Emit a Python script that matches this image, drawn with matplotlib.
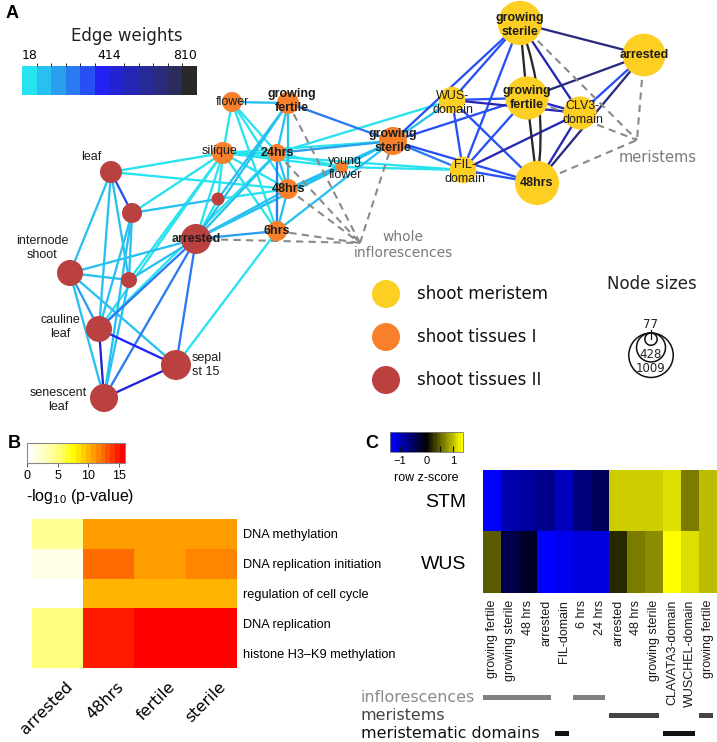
import numpy as np
import matplotlib
matplotlib.use('Agg')
import matplotlib.pyplot as plt
from matplotlib.colors import ListedColormap, BoundaryNorm, LinearSegmentedColormap, Normalize
from matplotlib.patches import Circle, FancyArrowPatch
import matplotlib.colorbar as mcolorbar

plt.rcParams['font.family'] = ['DejaVu Sans']
plt.rcParams['mathtext.default'] = 'regular'

W, H = 717, 742
SANS = ['Liberation Sans', 'DejaVu Sans']

# ---------------- Panel A data ----------------
node_ids = ['gsY', 'arrY', 'wus', 'gfY', 'clv3', 'fil', '48Y',
            'flower', 'gfO', 'silique', '24h', 'young', '48O', '6h', 'gsO',
            'leaf', 'smA', 'smB', 'arrR', 'internode', 'smC', 'cauline', 'sepal', 'senescent']
node_labels = ['growing\nsterile', 'arrested', 'WUS-\ndomain', 'growing\nfertile', 'CLV3-\ndomain',
               'FIL-\ndomain', '48hrs',
               'flower', 'growing\nfertile', 'silique', '24hrs', 'young\nflower', '48hrs', '6hrs',
               'growing\nsterile',
               'leaf', '', '', 'arrested', 'internode\nshoot', '', 'cauline\nleaf', 'sepal\nst 15',
               'senescent\nleaf']
node_group = [0] * 7 + [1] * 8 + [2] * 9
node_genes = [1000, 930, 360, 950, 560, 360, 990,
              204, 247, 247, 165, 73, 204, 204, 400,
              247, 204, 86, 459, 345, 130, 345, 459, 400]
node_x = [520, 644, 452, 527, 580, 463, 537,
          232, 288, 223, 277, 342, 288, 277, 393,
          111, 132, 218, 196, 70, 129, 99, 176, 104]
node_y = [23, 55, 100, 98, 113, 170, 183,
          102, 103, 153, 153, 167, 189, 231, 141,
          172, 213, 199, 239, 273, 280, 329, 365, 398]
bold_nodes = ['gsY', 'arrY', 'gfY', '48Y', 'gfO', '24h', '48O', '6h', 'gsO', 'arrR']

edges = [
    ('gsY', 'gfY', 810), ('gfY', '48Y', 800), ('gsY', '48Y', 790),
    ('gsY', 'arrY', 640), ('gfY', 'arrY', 620), ('arrY', '48Y', 660),
    ('gsY', 'clv3', 500), ('gfY', 'clv3', 460), ('clv3', '48Y', 540), ('arrY', 'clv3', 330),
    ('wus', 'clv3', 540), ('fil', 'clv3', 540),
    ('gsY', 'wus', 300), ('gsY', 'fil', 300), ('gsY', 'gsO', 300),
    ('gfY', 'wus', 300), ('gfY', 'fil', 300), ('gfY', 'gsO', 300),
    ('wus', 'fil', 300), ('wus', '48Y', 300), ('fil', '48Y', 300), ('gsO', '48Y', 290),
    ('gsO', 'fil', 280), ('gsO', 'wus', 90),
    ('flower', 'gfO', 130), ('flower', 'silique', 80), ('flower', '24h', 80), ('flower', '48O', 80),
    ('flower', '6h', 80),
    ('gfO', '24h', 100), ('gfO', '48O', 100), ('gfO', 'gsO', 220), ('gfO', 'arrR', 120), ('gfO', 'smB', 90),
    ('silique', '24h', 80), ('silique', '48O', 80), ('silique', '6h', 80), ('silique', 'young', 60),
    ('silique', 'gsO', 60), ('silique', 'fil', 50),
    ('24h', '48O', 110), ('24h', '6h', 230), ('24h', 'young', 80), ('24h', 'gsO', 160), ('24h', 'wus', 70),
    ('48O', '6h', 130), ('48O', 'young', 100), ('48O', 'gsO', 130),
    ('6h', 'gsO', 100), ('young', 'gsO', 100), ('young', 'fil', 60),
    ('arrR', '6h', 180), ('arrR', '24h', 120), ('arrR', '48O', 90), ('arrR', 'young', 80),
    ('arrR', 'silique', 80), ('arrR', 'smB', 70), ('arrR', 'gsO', 90),
    ('leaf', 'smA', 300), ('leaf', 'internode', 90), ('leaf', 'cauline', 90), ('leaf', 'smC', 90),
    ('leaf', 'silique', 80), ('leaf', '48O', 60),
    ('smA', 'smB', 90), ('smA', 'cauline', 90), ('smA', 'senescent', 90), ('smA', 'smC', 90),
    ('smA', 'silique', 80),
    ('internode', 'arrR', 140), ('internode', 'smC', 90), ('internode', 'cauline', 200),
    ('internode', 'senescent', 90), ('internode', 'sepal', 100),
    ('smC', 'arrR', 90), ('smC', 'senescent', 90), ('smC', 'silique', 80),
    ('cauline', 'arrR', 230), ('cauline', 'senescent', 460), ('cauline', 'sepal', 400),
    ('cauline', 'silique', 80), ('cauline', '24h', 80),
    ('senescent', 'sepal', 460), ('senescent', 'arrR', 230), ('sepal', 'arrR', 280), ('sepal', '6h', 70),
    ('smB', '48O', 70), ('smB', 'silique', 70),
]
curved_edges = [('gsY', '48Y')]

infl_members = ['gfO', '24h', '48O', '6h', 'arrR', 'gsO']
mer_members = ['gsY', 'arrY', 'gfY', '48Y']

group_names = ['shoot meristem', 'shoot tissues I', 'shoot tissues II']
group_colors = ['#fccf22', '#f8802a', '#bb4040']

edge_w_min, edge_w_mid, edge_w_max = 18, 414, 810
edge_colors = ['#27e3ef', '#27c0f0', '#2a9ff0', '#2a7af2', '#2650f4', '#2222f4',
               '#2323d4', '#2626b4', '#282a98', '#2a2b7e', '#2b2c5c', '#282828']
size_legend = [77, 428, 1009]

# ---------------- Panel B data ----------------
b_cols = ['arrested', '48hrs', 'fertile', 'sterile']
b_rows = ['DNA methylation', 'DNA replication initiation', 'regulation of cell cycle',
          'DNA replication', 'histone H3\u2013K9 methylation']
b_vals = np.array([
    [4.5, 10.8, 10.8, 10.8],
    [1.5, 12.5, 10.8, 11.7],
    [0.7, 10.0, 10.0, 10.0],
    [5.0, 15.0, 16.0, 16.0],
    [5.0, 15.0, 15.8, 15.3],
])

# ---------------- Panel C data ----------------
c_cols = ['growing fertile', 'growing sterile', '48 hrs', 'arrested', 'FIL-domain', '6 hrs', '24 hrs',
          'arrested', '48 hrs', 'growing sterile', 'CLAVATA3-domain', 'WUSCHEL-domain', 'growing fertile']
c_rows = ['STM', 'WUS']
c_vals = np.array([
    [-1.4, -0.9, -0.85, -0.73, -1.0, -0.63, -0.5, 1.1, 1.06, 1.1, 1.19, 0.64, 0.98],
    [0.51, -0.42, -0.25, -1.4, -1.23, -1.19, -1.19, 0.25, 0.68, 0.72, 1.32, 1.15, 0.98],
])
c_infl = [1, 1, 1, 1, 0, 1, 1, 0, 0, 0, 0, 0, 0]
c_mer = [0, 0, 0, 0, 0, 0, 0, 1, 1, 1, 0, 0, 1]
c_dom = [0, 0, 0, 0, 1, 0, 0, 0, 0, 0, 1, 1, 0]
c_group_names = ['inflorescences', 'meristems', 'meristematic domains']
c_group_colors = ['#808080', '#444444', '#111111']
c_text_colors = ['#8a8a8a', '#444444', '#111111']

# ---------------- figure ----------------
fig = plt.figure(figsize=(W / 100, H / 100), dpi=100)


def ax_px(x0, y0, x1, y1):
    return fig.add_axes([x0 / W, 1 - y1 / H, (x1 - x0) / W, (y1 - y0) / H])


# ===== Panel A =====
axA = ax_px(0, 0, W, 430)
axA.set_xlim(0, W)
axA.set_ylim(430, 0)
axA.axis('off')

pos = {n: (x, y) for n, x, y in zip(node_ids, node_x, node_y)}
ecmap = ListedColormap(edge_colors)
enorm = BoundaryNorm(np.linspace(edge_w_min, edge_w_max, len(edge_colors) + 1), len(edge_colors))

for a, b, w in sorted(edges, key=lambda e: e[2]):
    col = ecmap(enorm(w))
    if (a, b) in curved_edges:
        p = FancyArrowPatch(pos[a], pos[b], connectionstyle='arc3,rad=-0.13', arrowstyle='-',
                            color=col, lw=1.65, zorder=1 + w / 1000)
        axA.add_patch(p)
    else:
        axA.plot([pos[a][0], pos[b][0]], [pos[a][1], pos[b][1]], color=col, lw=1.65,
                 solid_capstyle='round', zorder=1 + w / 1000)

infl_anchor = (360, 243)
mer_anchor = (637, 140)
for n in infl_members:
    axA.plot([pos[n][0], infl_anchor[0]], [pos[n][1], infl_anchor[1]], color='#8a8a8a', lw=1.5,
             dashes=(3.5, 2.5), zorder=2.5)
for n in mer_members:
    axA.plot([pos[n][0], mer_anchor[0]], [pos[n][1], mer_anchor[1]], color='#8a8a8a', lw=1.5,
             dashes=(3.5, 2.5), zorder=2.5)

for n, g, s in zip(node_ids, node_group, node_genes):
    axA.add_patch(Circle(pos[n], 0.7 * np.sqrt(s), color=group_colors[g], lw=0, zorder=3))

label_off = {'leaf': (-20, -15, 'center'), 'internode': (-28, -25, 'center'),
             'cauline': (-39, -2, 'center'), 'sepal': (16, 0, 'left'),
             'senescent': (-46, 2, 'center'), 'silique': (-3, -2, 'center'),
             'young': (3, 1, 'center'), 'clv3': (3, 0, 'center'), 'fil': (2, 2, 'center'),
             'wus': (1, 3, 'center'), 'gsY': (0, 2, 'center'), 'gfO': (4, -2, 'center'),
             'gsO': (0, 0, 'center')}
for n, lab in zip(node_ids, node_labels):
    if not lab:
        continue
    dx, dy, ha = label_off.get(n, (0, 0, 'center'))
    axA.text(pos[n][0] + dx, pos[n][1] + dy, lab, ha=ha, va='center',
             multialignment='center' if ha == 'center' else 'left',
             fontsize=9, family=SANS, fontweight='bold' if n in bold_nodes else 'normal',
             color='#1c1c1c', linespacing=1.15, zorder=4)

axA.text(403, 245, 'whole\ninflorescences', ha='center', va='center', fontsize=10, color='#7a7a7a',
         linespacing=1.1, zorder=4)
axA.text(658, 157, 'meristems', ha='center', va='center', fontsize=10.5, color='#7a7a7a', zorder=4)
axA.text(6, 14, 'A', ha='left', va='center', fontsize=13, fontweight='bold', family=SANS)

# node group legend
for i, (gn, gc) in enumerate(zip(group_names, group_colors)):
    axA.add_patch(Circle((386, 294 + 43 * i), 14, color=gc, lw=0))
    axA.text(417, 294 + 43 * i, gn, ha='left', va='center', fontsize=12, color='#111')

# node size legend
axA.text(652, 284, 'Node sizes', ha='center', va='center', fontsize=12, color='#222')
for s in size_legend:
    r = 0.7 * np.sqrt(s)
    axA.add_patch(Circle((651, 333 + r), r, fill=False, ec='#111', lw=1.1))
r_small = 0.7 * np.sqrt(size_legend[0])
axA.plot([651, 651], [330, 333 + r_small], color='#111', lw=0.9)
axA.text(651, 325, str(size_legend[0]), ha='center', va='center', fontsize=8.5, color='#222')
axA.text(651, 354, str(size_legend[1]), ha='center', va='center', fontsize=8.5, color='#222')
axA.text(651, 369, str(size_legend[2]), ha='center', va='center', fontsize=8.5, color='#222')

# edge weights colorbar
axE = ax_px(22, 66, 197, 95)
cbE = mcolorbar.ColorbarBase(axE, cmap=ecmap, norm=enorm, orientation='horizontal',
                             ticks=[edge_w_min, edge_w_mid, edge_w_max])
cbE.outline.set_visible(False)
axE.xaxis.set_ticks_position('top')
axE.tick_params(length=0, pad=3, labelsize=9)
cbE.set_ticklabels([str(edge_w_min), str(edge_w_mid), str(edge_w_max)])
labs = axE.get_xticklabels()
labs[0].set_ha('left')
labs[-1].set_ha('right')
fig.text(127 / W, 1 - 36 / H, 'Edge weights', ha='center', va='center', fontsize=12, color='#222')

# ===== Panel B =====
b_cmap = LinearSegmentedColormap.from_list(
    'heatb', [(0, '#ffffff'), (5 / 16, '#ffff80'), (7.5 / 16, '#ffff00'), (10 / 16, '#ffb800'),
              (12.5 / 16, '#ff7000'), (1, '#ff0000')], N=20)
b_norm = Normalize(0, 16)

axBc = ax_px(27, 443, 125, 463)
cbB = mcolorbar.ColorbarBase(axBc, cmap=b_cmap, norm=b_norm, orientation='horizontal', ticks=[0, 5, 10, 15])
cbB.outline.set_edgecolor('#888')
cbB.outline.set_linewidth(0.8)
axBc.tick_params(length=3, width=0.6, color='#444', labelsize=9, pad=2)
for t in axBc.get_xticklabels():
    t.set_family(SANS)
fig.text(26 / W, 1 - 497 / H, '-log$_{10}$ (p-value)', ha='left', va='center', fontsize=11.5, family=SANS)
fig.text(14 / W, 1 - 443 / H, 'B', ha='center', va='center', fontsize=13, fontweight='bold', family=SANS)

axB = ax_px(32, 519, 236, 668)
axB.imshow(b_vals, cmap=b_cmap, norm=b_norm, aspect='auto', interpolation='nearest')
for sp in axB.spines.values():
    sp.set_visible(False)
axB.yaxis.tick_right()
axB.set_yticks(range(len(b_rows)))
axB.set_yticklabels(b_rows, fontsize=9.2, family=SANS)
axB.set_xticks(np.arange(len(b_cols)) + 0.15)
axB.set_xticklabels(b_cols, rotation=45, ha='right', va='top', fontsize=11.5, rotation_mode='anchor')
axB.tick_params(length=0, pad=5)
axB.tick_params(axis='x', pad=8)

# ===== Panel C =====
c_cmap = LinearSegmentedColormap.from_list('byy', ['#0000ff', '#000000', '#ffff00'], N=32)
c_norm = Normalize(-1.37, 1.37)

axCc = ax_px(390, 432, 463, 452)
cbC = mcolorbar.ColorbarBase(axCc, cmap=c_cmap, norm=c_norm, orientation='horizontal',
                             ticks=[-1, -0.5, 0, 0.5, 1])
cbC.outline.set_edgecolor('#777')
cbC.outline.set_linewidth(0.6)
axCc.tick_params(direction='in', length=4, width=0.8, color='#111', labelsize=8, pad=3)
cbC.set_ticklabels(['\u22121', '', '0', '', '1'])
for t in axCc.get_xticklabels():
    t.set_family(SANS)
fig.text(426 / W, 1 - 478 / H, 'row z-score', ha='center', va='center', fontsize=9, family=SANS)
fig.text(372 / W, 1 - 443 / H, 'C', ha='center', va='center', fontsize=13, fontweight='bold', family=SANS)

axC = ax_px(483, 470, 717, 593)
axC.imshow(c_vals, cmap=c_cmap, norm=c_norm, aspect='auto', interpolation='nearest')
for sp in axC.spines.values():
    sp.set_visible(False)
axC.set_yticks(range(len(c_rows)))
axC.set_yticklabels(c_rows, fontsize=14, family=SANS)
axC.set_xticks(range(len(c_cols)))
axC.set_xticklabels(c_cols, rotation=90, ha='center', va='top', fontsize=9, family=SANS, color='#1a1a1a')
axC.tick_params(length=0)
axC.tick_params(axis='y', pad=12)
axC.tick_params(axis='x', pad=5)

axG = ax_px(483, 688, 717, 742)
axG.set_xlim(-0.5, len(c_cols) - 0.5)
axG.set_ylim(742, 688)
axG.axis('off')
group_y = [698, 716, 734]
for gi, (mem, gc) in enumerate(zip([c_infl, c_mer, c_dom], c_group_colors)):
    runs = []
    start = None
    for i, v in enumerate(mem + [0]):
        if v and start is None:
            start = i
        if not v and start is not None:
            runs.append((start, i - start))
            start = None
    for st, ln in runs:
        axG.barh(group_y[gi], ln - 0.2, left=st - 0.5, height=5, color=gc)
for gi, (gn, gc) in enumerate(zip(c_group_names, c_text_colors)):
    fig.text(361 / W, 1 - group_y[gi] / H, gn, ha='left', va='center', fontsize=11.4, color=gc)

fig.savefig('out.png', dpi=100)
